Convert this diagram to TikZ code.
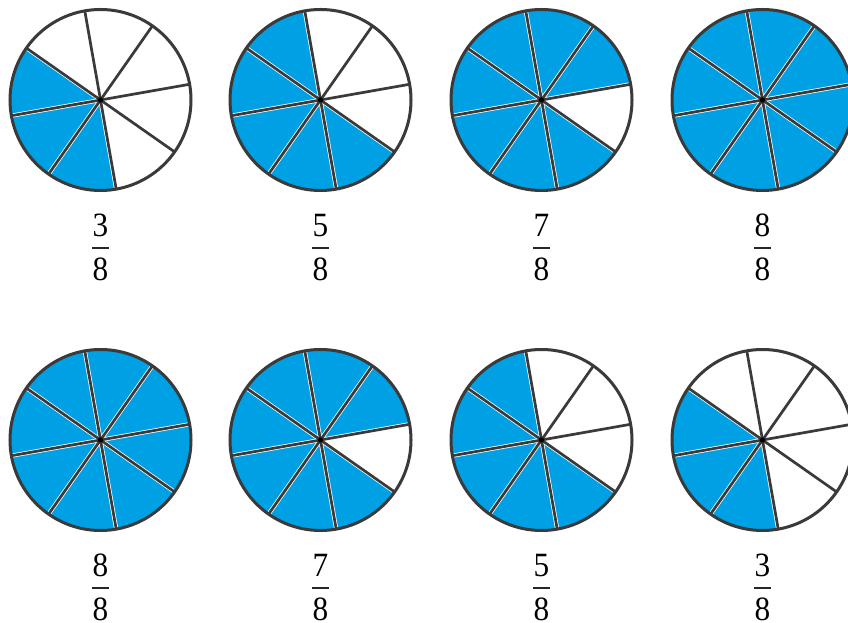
\documentclass[tikz,border=0pt]{standalone}
\usepackage{fontspec}
\setmainfont{Liberation Serif}
\definecolor{pieblue}{RGB}{0,160,228}
\definecolor{rim}{RGB}{58,58,58}
\begin{document}
\begin{tikzpicture}[x=1pt,y=1pt,
  rimline/.style={draw=rim,line width=3pt},
  spokeunder/.style={draw=white,line width=4.2pt},
  spokeline/.style={draw=rim,line width=2.7pt},
  digit/.style={inner sep=0pt,font=\fontsize{34}{40}\selectfont,xscale=0.92},
  fracbar/.style={draw=black!85,line width=1.4pt}]
\useasboundingbox (0,0) rectangle (848,623);
\def\R{90.5}
\foreach \name/\cx/\cy/\num/\from/\to in {
  p1/100.5/523/3/3/5, p2/320.5/523/5/2/6, p3/541.5/523/7/0/6, p4/762.5/523/8/0/7,
  p5/100.5/183/8/0/7, p6/320.5/183/7/0/6, p7/541.5/183/5/2/6, p8/762.5/183/3/3/5}
{
  \coordinate (\name) at (\cx,\cy);
  \foreach \k in {\from,...,\to}
    \fill[pieblue] (\name) -- ++({10+45*\k}:\R) arc[start angle={10+45*\k}, delta angle=45, radius=\R] -- cycle;
  \foreach \a in {10,55,...,325}
    \draw[spokeunder] (\name) -- ++(\a:\R-1.5);
  \foreach \a in {10,55,...,325}
    \draw[spokeline] (\name) -- ++(\a:\R);
  \draw[rimline] (\name) circle[radius=\R];
  \fill[black] (\name) circle[radius=2.6];
  \node[digit] (\name-num) at (\cx,\cy-125.5) {\num};
  \node[digit] (\name-den) at (\cx,\cy-169) {8};
  \draw[fracbar] (\cx-8.5,\cy-148) -- (\cx+8.5,\cy-148);
}
\end{tikzpicture}
\end{document}
